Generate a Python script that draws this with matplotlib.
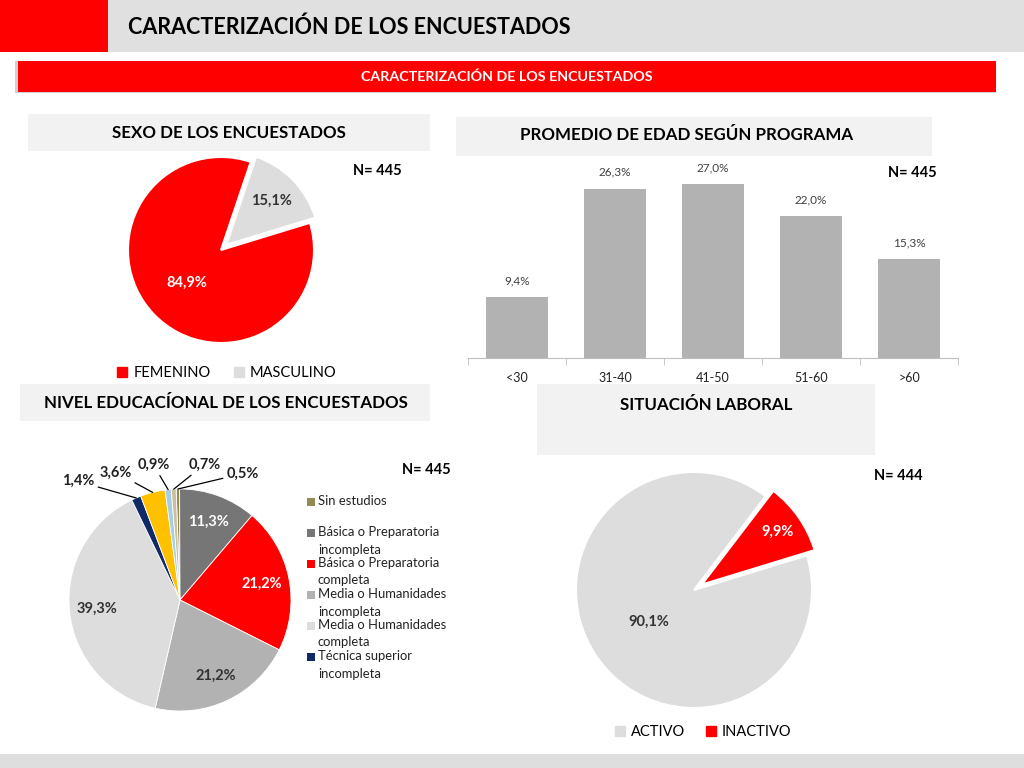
import textwrap
import numpy as np
import matplotlib
matplotlib.use("Agg")
import matplotlib.pyplot as plt
from matplotlib.patches import Rectangle, Patch

plt.rcParams['font.family'] = ['Lato', 'DejaVu Sans']

# ---------------- data ----------------
title = "CARACTERIZACIÓN DE LOS ENCUESTADOS"
sexo_labels = ["FEMENINO", "MASCULINO"]
sexo_values = [84.9, 15.1]
sexo_n = "N= 445"

edad_labels = ["<30", "31-40", "41-50", "51-60", ">60"]
edad_values = [9.4, 26.3, 27.0, 22.0, 15.3]
edad_n = "N= 445"

edu_labels = ["Sin estudios", "Básica o Preparatoria incompleta",
              "Básica o Preparatoria completa", "Media o Humanidades incompleta",
              "Media o Humanidades completa", "Técnica superior incompleta",
              "Técnica superior completa", "Universitaria incompleta",
              "Universitaria completa"]
edu_values = [0.5, 11.3, 21.2, 21.2, 39.3, 1.4, 3.6, 0.9, 0.7]
edu_n = "N= 445"

lab_labels = ["ACTIVO", "INACTIVO"]
lab_values = [90.1, 9.9]
lab_n = "N= 444"

# ---------------- styles ----------------
RED = "#FF0000"
LG = "#DDDDDD"
edu_colors = ["#948A54", "#767676", RED, "#B2B2B2", "#DDDDDD",
              "#0F2A66", "#FFC000", "#A6CDE6", "#CDBF9E"]
edu_txt_colors = ["#222222", "white", "white", "#333333", "#333333",
                  "#222222", "#222222", "#222222", "#222222"]

W, H = 1024, 768
fig = plt.figure(figsize=(W / 100, H / 100), dpi=100)
fig.patch.set_facecolor("white")


def fx(x):
    return x / W


def fy(y):
    return 1 - y / H


def rect(x0, y0, x1, y1, color, z=0):
    fig.patches.append(Rectangle((fx(x0), fy(y1)), (x1 - x0) / W, (y1 - y0) / H,
                                 transform=fig.transFigure, color=color, zorder=z, lw=0))


def ftext(x, y, s, **kw):
    fig.text(fx(x), fy(y), s, **kw)


# header
rect(0, 0, 1024, 52, "#E0E0E0")
rect(0, 0, 108, 52, RED)
ftext(128, 27, title, fontsize=15.5, fontweight="bold", color="black", va="center", ha="left")
rect(15, 61, 996, 93, "#D0D0D0")
rect(18, 61, 996, 92, RED)
ftext(507, 77, title, fontsize=10.3, fontweight="bold", color="white", va="center", ha="center")
rect(0, 754, 1024, 768, "#DEDEDE")

# section headers
hs = 12.2
rect(28, 114, 430, 151, "#F2F2F2")
ftext(229, 133, "SEXO DE LOS ENCUESTADOS", fontsize=hs, fontweight="bold", ha="center", va="center")
rect(456, 117, 932, 156, "#F2F2F2")
ftext(687, 135, "PROMEDIO DE EDAD SEGÚN PROGRAMA", fontsize=hs, fontweight="bold", ha="center", va="center")
rect(20, 384, 430, 421, "#F2F2F2")
ftext(226, 403, "NIVEL EDUCACÍONAL DE LOS ENCUESTADOS", fontsize=hs, fontweight="bold", ha="center", va="center")
rect(537, 384, 875, 455, "#F2F2F2")
ftext(706, 405, "SITUACIÓN LABORAL", fontsize=hs, fontweight="bold", ha="center", va="center")

# N labels
ftext(377, 171, sexo_n, fontsize=10.5, fontweight="bold", ha="center", va="center")
ftext(912, 173, edad_n, fontsize=10.5, fontweight="bold", ha="center", va="center")
ftext(426, 470, edu_n, fontsize=10.5, fontweight="bold", ha="center", va="center")
ftext(898, 476, lab_n, fontsize=10.5, fontweight="bold", ha="center", va="center")


def pie_ax(cx, cy, R, lim=1.45):
    size = 2 * lim * R
    ax = fig.add_axes([fx(cx - lim * R), fy(cy + lim * R), size / W, size / H])
    return ax, lim


def place_pct(ax, wedges, values, dists, colors, size=10):
    for w, v, d, c in zip(wedges, values, dists, colors):
        th = np.deg2rad((w.theta1 + w.theta2) / 2)
        cx, cy = w.center
        ax.text(cx + d * np.cos(th), cy + d * np.sin(th), f"{v:.1f}%".replace(".", ","),
                ha="center", va="center", fontsize=size, fontweight="bold", color=c)


# ---------------- pie 1: sexo ----------------
ax1, lim = pie_ax(221, 250, 93)
w1, _ = ax1.pie(sexo_values, colors=[RED, LG], startangle=17, counterclock=False,
                explode=[0, 0.08], wedgeprops=dict(edgecolor="white", linewidth=1.5))
ax1.set_xlim(-lim, lim); ax1.set_ylim(-lim, lim); ax1.axis("off")
place_pct(ax1, w1, sexo_values, [0.51, 0.68], ["white", "#333333"], size=10.5)
fig.legend(handles=[Patch(color=RED, label=sexo_labels[0]), Patch(color=LG, label=sexo_labels[1])],
           loc="center", bbox_to_anchor=(fx(227), fy(373)), ncol=2, frameon=False,
           fontsize=10.5, handlelength=0.7, handleheight=0.7, handletextpad=0.4, columnspacing=1.6)

# ---------------- bar chart: edad ----------------
ppu = 6.44
ymax = 30
axb = fig.add_axes([fx(468), fy(358), 490 / W, ymax * ppu / H])
x = range(len(edad_values))
bars = axb.bar(x, edad_values, width=0.63, color="#B2B2B2")
axb.set_xlim(-0.5, len(edad_values) - 0.5)
axb.set_ylim(0, ymax)
for b, v in zip(bars, edad_values):
    axb.annotate(f"{v:.1f}%".replace(".", ","), (b.get_x() + b.get_width() / 2, v),
                 xytext=(0, 8), textcoords="offset points", ha="center", va="bottom",
                 fontsize=8.5, color="#404040")
for s in ["top", "right", "left"]:
    axb.spines[s].set_visible(False)
axb.spines["bottom"].set_color("#BFBFBF")
axb.set_yticks([])
axb.set_xticks(list(x))
axb.set_xticklabels(edad_labels, fontsize=9, color="#222222")
axb.tick_params(axis="x", which="major", length=0, pad=10)
axb.set_xticks([i + 0.5 for i in range(-1, len(edad_values))], minor=True)
axb.tick_params(axis="x", which="minor", length=5, color="#BFBFBF", direction="out")
axb.patch.set_alpha(0)

# ---------------- pie 3: educación ----------------
ax3, lim3 = pie_ax(180, 600, 111)
w3, _ = ax3.pie(edu_values, colors=edu_colors, startangle=92, counterclock=False,
                wedgeprops=dict(edgecolor="white", linewidth=0.6))
ax3.set_xlim(-lim3, lim3); ax3.set_ylim(-lim3, lim3); ax3.axis("off")
big = [i for i, v in enumerate(edu_values) if v >= 5]
small = [i for i, v in enumerate(edu_values) if v < 5]
place_pct(ax3, [w3[i] for i in big], [edu_values[i] for i in big], [0.75] * len(big),
          [edu_txt_colors[i] for i in big], size=10.5)
small_pos = {5: (-0.92, 1.07), 6: (-0.58, 1.15), 7: (-0.24, 1.22), 8: (0.22, 1.22), 0: (0.57, 1.14)}
for i in small:
    w = w3[i]
    th = np.deg2rad((w.theta1 + w.theta2) / 2)
    ax3.annotate(f"{edu_values[i]:.1f}%".replace(".", ","), xy=(np.cos(th), np.sin(th)),
                 xytext=small_pos[i], ha="center", va="center", fontsize=10.5,
                 fontweight="bold", color="#222222",
                 arrowprops=dict(arrowstyle="-", color="black", lw=0.9, shrinkA=1, shrinkB=0))

# manual legend (first six categories, as in the source)
for i in range(6):
    ytop = 502 + 31 * i
    rect(307, ytop - 4, 315, ytop + 4, edu_colors[i], z=3)
    ftext(318, ytop - 7, textwrap.fill(edu_labels[i], 21), fontsize=9.4, ha="left",
          va="top", linespacing=1.55, color="#222222")

# ---------------- pie 4: situación laboral ----------------
ax4, lim4 = pie_ax(694, 590, 118)
w4, _ = ax4.pie(lab_values, colors=[LG, RED], startangle=17, counterclock=False,
                explode=[0, 0.08], wedgeprops=dict(edgecolor="white", linewidth=1.5))
ax4.set_xlim(-lim4, lim4); ax4.set_ylim(-lim4, lim4); ax4.axis("off")
place_pct(ax4, w4, lab_values, [0.47, 0.78], ["#333333", "white"], size=10.5)
fig.legend(handles=[Patch(color=LG, label=lab_labels[0]), Patch(color=RED, label=lab_labels[1])],
           loc="center", bbox_to_anchor=(fx(703), fy(732)), ncol=2, frameon=False,
           fontsize=10.5, handlelength=0.7, handleheight=0.7, handletextpad=0.4, columnspacing=1.4)

fig.savefig("out.png", dpi=100)
